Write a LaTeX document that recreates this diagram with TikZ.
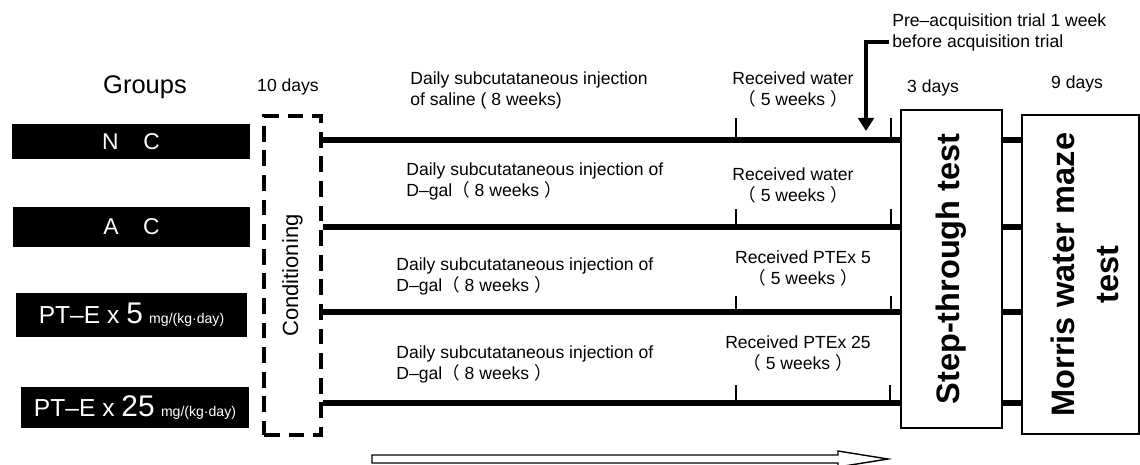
\documentclass[tikz,border=0pt]{standalone}
\usepackage{fontspec}
\setmainfont{Liberation Sans}
\newfontfamily\cjk{Noto Sans CJK JP}
\usepackage{tikz}
\usetikzlibrary{arrows.meta,positioning,calc}
\tikzset{
    grupo/.style={
        rectangle,
        fill=black,
        text=white,
        inner sep=0pt,
        font=\fontsize{13}{15}\selectfont
    },
    condicionamento/.style={
        rectangle,
        draw,
        line width=2.3pt,
        dash pattern=on 9pt off 5pt,
        minimum width=1.14cm,
        minimum height=6.38cm
    },
    teste/.style={
        rectangle,
        draw,
        line width=0.8pt,
        minimum height=6.36cm
    },
    textoTeste/.style={rotate=90, align=center, font=\bfseries\fontsize{18.5}{25}\selectfont},
    rotulo/.style={inner sep=0pt, align=left, font=\fontsize{10}{12}\selectfont},
    periodo/.style={rotulo, align=center},
    linhaTempo/.style={line width=3.2pt},
    marca/.style={line width=1.2pt},
    seta/.style={line width=2.8pt, -{Triangle[length=7.5pt,width=9pt]}},
    setaVazada/.style={line width=0.8pt, line join=miter}
}
\newcommand{\dose}[1]{{\fontsize{14}{15}\selectfont PT–E x }{\fontsize{17}{17}\selectfont #1} {\fontsize{8}{8}\selectfont mg/(kg·day)}}

\begin{document}
\begin{tikzpicture}[x=0.02cm, y=-0.02cm]
    \useasboundingbox (0,0) rectangle (1140,464);

    \node[font=\fontsize{14.5}{16}\selectfont] (groups) at (145,87) {Groups};
    \node[grupo, minimum width=4.76cm, minimum height=0.70cm] (nc) at (131,141.5) {N\hspace{14pt}C};
    \node[grupo, minimum width=4.74cm, minimum height=0.80cm] (ac) at (131.5,227) {A\hspace{14pt}C};
    \node[grupo, minimum width=4.62cm, minimum height=0.88cm] (pt5) at (131.5,315) {\dose{5}};
    \node[grupo, minimum width=4.56cm, minimum height=0.82cm] (pt25) at (135,407.5) {\dose{25}};

    \node[font=\fontsize{10}{12}\selectfont] (dez) at (288,87) {10 days};
    \node[condicionamento] (cond) at (292.5,275.5) {};
    \node[rotate=90, font=\fontsize{12.5}{14}\selectfont] at (cond.center) {Conditioning};

    \node[teste, minimum width=2.02cm] (step) at (951.5,269) {};
    \node[textoTeste] at (step.center) {Step-through test};
    \node[teste, minimum width=2.34cm, minimum height=6.38cm] (morris) at (1080.5,274.5) {};
    \node[textoTeste] at ([xshift=0.09cm]morris.center) {Morris water maze\\test};
    \node[font=\fontsize{10}{12}\selectfont] (tres) at (933,88) {3 days};
    \node[font=\fontsize{10}{12}\selectfont] (nove) at (1077,84) {9 days};

    \coordinate (y1) at (0,140);
    \coordinate (y2) at (0,227);
    \coordinate (y3) at (0,312);
    \coordinate (y4) at (0,403);

    \draw[linhaTempo] (cond.east |- y1) -- (step.west |- y1);
    \draw[linhaTempo] (cond.east |- y2) -- (step.west |- y2);
    \draw[linhaTempo] (cond.east |- y3) -- (step.west |- y3);
    \draw[linhaTempo] (cond.east |- y4) -- (step.west |- y4);
    \draw[linhaTempo] (step.east |- y1) -- (morris.west |- y1);
    \draw[linhaTempo] (step.east |- y2) -- (morris.west |- y2);
    \draw[linhaTempo] (step.east |- y3) -- (morris.west |- y3);
    \draw[linhaTempo] (step.east |- y4) -- (morris.west |- y4);

    \draw[marca] (736,140) -- (736,118);
    \draw[marca] (891,140) -- (891,118);
    \draw[marca] (736,227) -- (736,209);
    \draw[marca] (891,227) -- (891,209);
    \draw[marca] (736,312) -- (736,296);
    \draw[marca] (891,312) -- (891,296);
    \draw[marca] (736,403) -- (736,385);
    \draw[marca] (890,403) -- (890,385);

    \node[rotulo, anchor=west] (inj1) at (410,90.5)
        {Daily subcutataneous injection\\of saline ( 8 weeks)};
    \node[rotulo, anchor=west] (inj2) at (406,181.5)
        {Daily subcutataneous injection of\\D–gal{\cjk（} 8 weeks {\cjk）}};
    \node[rotulo, anchor=west] (inj3) at (396,276)
        {Daily subcutataneous injection of\\D–gal{\cjk（} 8 weeks {\cjk）}};
    \node[rotulo, anchor=west] (inj4) at (396,364.5)
        {Daily subcutataneous injection of\\D–gal{\cjk（} 8 weeks {\cjk）}};

    \node[periodo] (rec1) at (793,89.5) {Received water\\{\cjk（} 5 weeks {\cjk）}};
    \node[periodo] (rec2) at (793,185.5) {Received water\\{\cjk（} 5 weeks {\cjk）}};
    \node[periodo] (rec3) at (803,268.5) {Received PTEx 5\\{\cjk（} 5 weeks {\cjk）}};
    \node[periodo] (rec4) at (798,353.5) {Received PTEx 25\\{\cjk（} 5 weeks {\cjk）}};

    \node[rotulo, anchor=west] (pre) at (892,32.5)
        {Pre–acquisition trial 1 week\\before acquisition trial};
    \coordinate (preInicio) at (889,42);
    \coordinate (preFim) at (866,131);
    \draw[seta] (preInicio) -| (preFim);

    \draw[setaVazada] (372,455) -- (838,455) -- (838,451) -- (888,459) -- (838,467)
        -- (838,463) -- (372,463) -- cycle;
\end{tikzpicture}
\end{document}
